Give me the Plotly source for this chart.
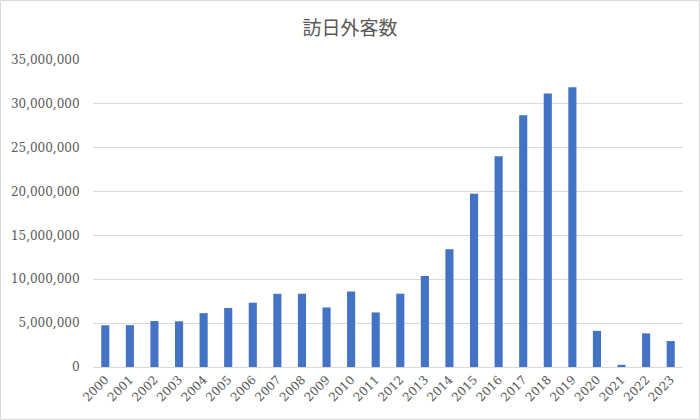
import plotly.graph_objects as go

years = [str(y) for y in range(2000, 2024)]
visitors = [4757146, 4771555, 5238963, 5211725, 6137905, 6727926, 7334077, 8346969,
            8350835, 6789658, 8611175, 6218752, 8358105, 10363904, 13413467, 19737409,
            24039700, 28691073, 31191856, 31882049, 4115828, 245862, 3832110, 2960000]
title_text = "訪日外客数"

W, H = 700, 420
ml, mr, mt, mb = 93, 17, 60, 53
pw, ph = W - ml - mr, H - mt - mb
SERIF = "DejaVu Serif"

fig = go.Figure(go.Bar(x=years, y=visitors, marker=dict(color="#4472C4", line=dict(width=0))))

fig.update_layout(
    width=W, height=H,
    margin=dict(l=ml, r=mr, t=mt, b=mb),
    paper_bgcolor="white", plot_bgcolor="white",
    bargap=0.67,
    title=dict(text=title_text, x=0.5, xanchor="center", y=1 - 28 / H, yanchor="middle",
               font=dict(family="Noto Sans CJK JP", size=19, color="#595959")),
    font=dict(family=SERIF, size=12, color="#595959"),
    xaxis=dict(type="category", tickangle=-45, showgrid=False, showline=True,
               linecolor="#d9d9d9", linewidth=1, ticks="", automargin=False,
               tickfont=dict(family=SERIF, size=12, color="#595959")),
    yaxis=dict(range=[0, 35000000], dtick=5000000, tickformat=",", showgrid=True,
               gridcolor="#d9d9d9", gridwidth=1, zeroline=False, showline=False,
               ticks="outside", ticklen=10, tickcolor="white", automargin=False,
               tickfont=dict(family=SERIF, size=12, color="#595959")),
    shapes=[dict(type="rect", xref="paper", yref="paper",
                 x0=(0.5 - ml) / pw, x1=(W - 0.5 - ml) / pw,
                 y0=-(mb - 0.5) / ph, y1=(H - mb - 0.5) / ph,
                 line=dict(color="#d9d9d9", width=1), fillcolor="rgba(0,0,0,0)")],
)

fig.write_html("out.html")
